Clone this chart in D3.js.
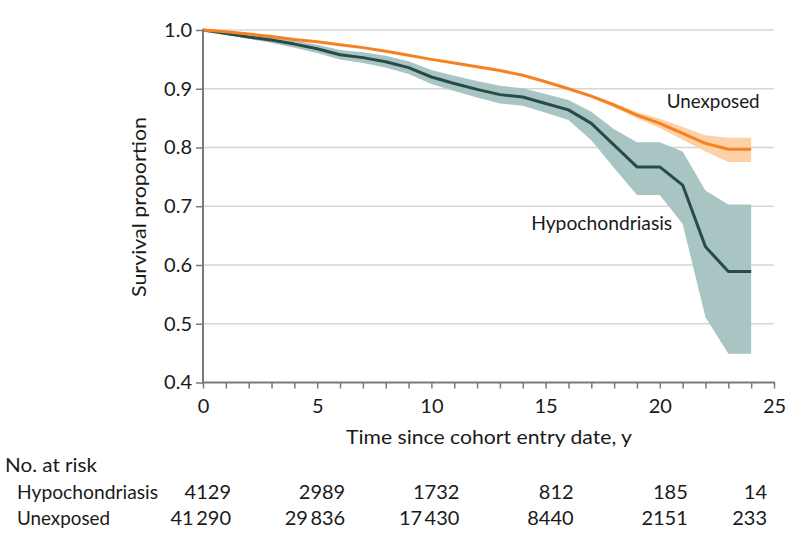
<!DOCTYPE html>
<html>
<head>
<meta charset="utf-8">
<script src="https://cdn.jsdelivr.net/npm/d3@7"></script>
<style>
  html, body { margin: 0; padding: 0; background: #fff; }
  svg { display: block; }
  text { font-family: Lato, "Liberation Sans", Arial, sans-serif; fill: #1a1a1a; }
</style>
</head>
<body>
<svg id="chart" width="798" height="547"></svg>
<script>
// ---- Data ----
const years = d3.range(0, 25); // 0..24
const hypoSurv = [1.0, 0.994, 0.988, 0.983, 0.976, 0.968, 0.958, 0.953, 0.946, 0.936, 0.920, 0.909, 0.899, 0.890, 0.886, 0.875, 0.864, 0.841, 0.804, 0.767, 0.767, 0.736, 0.631, 0.589, 0.589];
const hypoLower = [1.0, 0.992, 0.985, 0.978, 0.970, 0.961, 0.950, 0.944, 0.936, 0.925, 0.908, 0.896, 0.885, 0.875, 0.871, 0.859, 0.847, 0.8125, 0.765, 0.719, 0.719, 0.670, 0.511, 0.449, 0.449];
const hypoUpper = [1.0, 0.996, 0.991, 0.988, 0.982, 0.975, 0.966, 0.962, 0.956, 0.947, 0.932, 0.922, 0.913, 0.905, 0.901, 0.891, 0.881, 0.861, 0.831, 0.809, 0.809, 0.793, 0.727, 0.703, 0.703];
const unexpSurv = [1.0, 0.997, 0.993, 0.989, 0.984, 0.980, 0.975, 0.970, 0.964, 0.957, 0.950, 0.944, 0.9375, 0.931, 0.923, 0.912, 0.900, 0.8875, 0.872, 0.855, 0.841, 0.824, 0.807, 0.797, 0.797];
const unexpLower = [1.0, 0.9965, 0.9925, 0.9884, 0.9834, 0.9793, 0.9742, 0.9691, 0.9630, 0.9559, 0.9488, 0.9427, 0.9360, 0.9293, 0.9212, 0.9105, 0.8980, 0.885, 0.868, 0.850, 0.833, 0.813, 0.793, 0.7755, 0.7755];
const unexpUpper = [1.0, 0.9975, 0.9935, 0.9896, 0.9846, 0.9807, 0.9758, 0.9709, 0.9650, 0.9581, 0.9512, 0.9453, 0.9390, 0.9327, 0.9248, 0.9135, 0.9020, 0.890, 0.876, 0.860, 0.849, 0.835, 0.821, 0.8165, 0.8165];

const yTicks = [0.4, 0.5, 0.6, 0.7, 0.8, 0.9, 1.0];
const xTicks = [0, 5, 10, 15, 20, 25];
const riskTimes = [0, 5, 10, 15, 20, 25];
const riskGroups = ["Hypochondriasis", "Unexposed"];
const riskHypo = ["4129", "2989", "1732", "812", "185", "14"];
const riskUnexp = ["41\u2009290", "29\u2009836", "17\u2009430", "8440", "2151", "233"];

// ---- Layout ----
const svg = d3.select("#chart");
const x = d3.scaleLinear().domain([0, 25]).range([203, 774]);
const y = d3.scaleLinear().domain([0.4, 1.0]).range([382.5, 30]);
const FS = 20;
const FONT = "Lato, 'Liberation Sans', sans-serif";
const axisColor = "#7a7a7a";

// gridlines
svg.append("g").selectAll("line").data(yTicks.filter(d => d > 0.4)).join("line")
  .attr("x1", x(0)).attr("x2", x(25))
  .attr("y1", d => y(d)).attr("y2", d => y(d))
  .attr("stroke", "#d6d6d6").attr("stroke-width", 1.3);

// bands and curves
const area = (lo, hi) => d3.area().x((d, i) => x(years[i])).y0((d, i) => y(lo[i])).y1((d, i) => y(hi[i]));
const line = (v) => d3.line().x((d, i) => x(years[i])).y((d, i) => y(v[i]));

svg.append("path").datum(years).attr("d", area(hypoLower, hypoUpper)).attr("fill", "#a9c5c3");
svg.append("path").datum(years).attr("d", area(unexpLower, unexpUpper)).attr("fill", "#fdd0a6");
svg.append("path").datum(years).attr("d", line(hypoSurv)).attr("fill", "none")
  .attr("stroke", "#274c48").attr("stroke-width", 3).attr("stroke-linejoin", "round");
svg.append("path").datum(years).attr("d", line(unexpSurv)).attr("fill", "none")
  .attr("stroke", "#f5821f").attr("stroke-width", 3).attr("stroke-linejoin", "round");

// y axis
const yAxis = svg.append("g").attr("transform", `translate(${x(0)},0)`)
  .call(d3.axisLeft(y).tickValues(yTicks).tickFormat(d3.format(".1f")).tickSize(7).tickPadding(4));
yAxis.select(".domain").attr("stroke", axisColor).attr("stroke-width", 2).attr("d", `M0,${y(1.0)-1}V${y(0.4)}`);
yAxis.selectAll(".tick line").attr("stroke", axisColor).attr("stroke-width", 1.5);
yAxis.selectAll(".tick text").attr("font-size", FS).attr("font-family", FONT).attr("fill", "#1a1a1a");

// x axis
const xAxis = svg.append("g").attr("transform", `translate(0,${y(0.4)})`)
  .call(d3.axisBottom(x).tickValues(d3.range(0, 26)).tickFormat(d => xTicks.includes(d) ? d : "").tickSize(6).tickPadding(10));
xAxis.select(".domain").attr("stroke", axisColor).attr("stroke-width", 2).attr("d", `M${x(0)-1},0H${x(25)+1}`);
xAxis.selectAll(".tick line").attr("stroke", axisColor).attr("stroke-width", 1.5);
xAxis.selectAll(".tick text").attr("font-size", FS).attr("font-family", FONT).attr("fill", "#1a1a1a");

// axis titles
svg.append("text").attr("x", 346).attr("y", 444)
  .attr("font-size", FS).attr("textLength", 286).attr("lengthAdjust", "spacingAndGlyphs")
  .text("Time since cohort entry date, y");
svg.append("text").attr("transform", `translate(146,297) rotate(-90)`)
  .attr("font-size", FS).attr("textLength", 180).attr("lengthAdjust", "spacingAndGlyphs")
  .text("Survival proportion");

// series labels
svg.append("text").attr("x", x(20.3)).attr("y", y(unexpUpper[20]) - 11)
  .attr("font-size", FS).attr("textLength", 93).attr("lengthAdjust", "spacingAndGlyphs").text("Unexposed");
svg.append("text").attr("x", x(14.37)).attr("y", y(0.66))
  .attr("font-size", FS).attr("textLength", 141).attr("lengthAdjust", "spacingAndGlyphs").text("Hypochondriasis");

// risk table
svg.append("text").attr("x", 5).attr("y", 472).attr("font-size", FS)
  .attr("textLength", 92).attr("lengthAdjust", "spacingAndGlyphs").text("No. at risk");
const rowY = [499, 525];
const rowW = [141, 93];
svg.append("g").selectAll("text").data(riskGroups).join("text")
  .attr("x", 17).attr("y", (d, i) => rowY[i]).attr("font-size", FS)
  .attr("textLength", (d, i) => rowW[i]).attr("lengthAdjust", "spacingAndGlyphs").text(d => d);
const rightEdge = t => Math.min(x(t) + 28, x(25) - 7);
[riskHypo, riskUnexp].forEach((row, r) => {
  svg.append("g").selectAll("text").data(row).join("text")
    .attr("x", (d, i) => rightEdge(riskTimes[i]))
    .attr("y", rowY[r]).attr("text-anchor", "end").attr("font-size", FS)
    .text(d => d);
});
</script>
</body>
</html>
